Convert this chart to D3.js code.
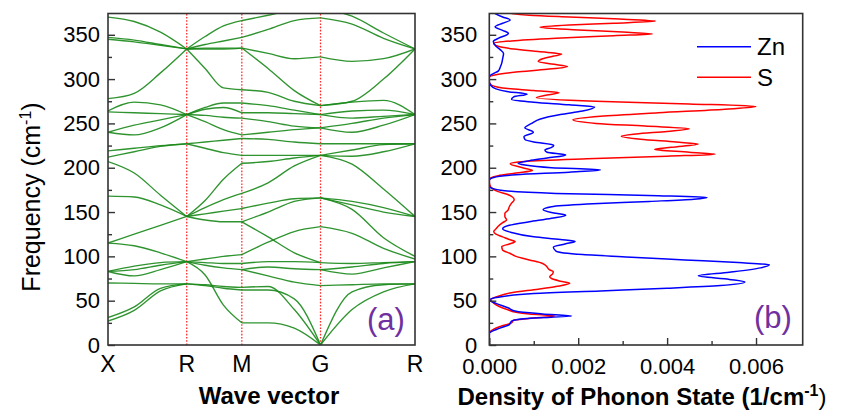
<!DOCTYPE html>
<html>
<head>
<meta charset="utf-8">
<script src="https://cdn.jsdelivr.net/npm/d3@7"></script>
<style>
  body { margin: 0; background: #fff; }
  text { font-family: Arial, "Liberation Sans", sans-serif; fill: #000; }
</style>
</head>
<body>
<script>

  //k path: high symmetry points and their path positions
  var kLabels = ["X", "R", "M", "G", "R"];
  var kPos = [0, 1, 1.7, 2.7, 3.9];

  //Band frequencies (cm-1) at 0, 1/3, 2/3 and end of each segment
  var bandsXR = [
    [370, 365, 353, 334], [347, 344, 339, 334], [345, 342, 338, 334], [278, 284, 307, 334],
    [264, 274, 271, 260], [263, 262, 261, 260], [240, 248, 254, 260], [240, 237, 245, 260],
    [219, 222, 225, 227], [212, 218, 224, 227], [207, 194, 169, 145], [168, 167, 158, 145],
    [115, 125, 135, 145], [115, 112, 104, 94], [83, 89, 93, 94], [83, 85, 90, 94],
    [83, 78, 85, 94], [70, 69.5, 69, 69], [31, 43, 64, 69], [27, 39, 61, 69]
  ];
  var bandsRM = [
    [334, 348, 360, 366], [334, 339, 343, 347], [334, 335, 335, 335], [334, 334, 334, 335],
    [334, 312, 290, 288], [260, 268, 273, 273], [260, 266, 268, 262], [260, 259, 257, 256],
    [260, 252, 243, 237], [227, 229, 231, 233], [227, 222, 217, 214], [145, 163, 187, 205],
    [145, 155, 164, 171], [145, 148, 151, 154], [145, 141, 139, 139], [94, 97, 100, 102],
    [94, 93, 92, 92], [94, 90, 87, 85], [94, 79, 45, 25], [69, 68, 66, 65], [69, 67, 64, 62]
  ];
  var bandsMG = [
    [366, 372, 378, 380], [347, 356, 366, 369], [335, 329, 323, 325], [335, 312, 287, 270],
    [288, 285, 275, 270], [273, 270, 265, 260], [262, 262, 261, 260], [256, 252, 247, 245],
    [237, 240, 243, 245], [233, 232, 229, 227], [214, 214, 214, 214], [205, 207, 211, 214],
    [171, 183, 202, 214], [154, 160, 165, 166], [139, 150, 162, 166], [139, 122, 104, 93],
    [102, 116, 128, 133.5], [92, 94, 94, 93], [85, 88, 86, 85], [85, 78, 71, 67],
    [65, 66, 40, 0], [62, 62, 52, 0], [25, 25, 19, 0]
  ];
  var bandsGR = [
    [380, 371, 352, 334], [369, 362, 346, 334], [325, 320, 323, 334], [270, 275, 300, 334],
    [270, 274, 276, 260], [260, 264, 265, 260], [260, 256, 258, 260], [245, 250, 256, 260],
    [245, 240, 248, 260], [227, 227, 227, 227], [214, 220, 226, 227], [214, 213, 218, 227],
    [214, 204, 176, 145], [166, 162, 155, 145], [166, 158, 150, 145], [166, 153, 121, 100],
    [133.5, 126, 109, 97], [93, 92, 93, 94], [85, 88, 92, 94], [85, 80, 87, 94],
    [67, 68, 69, 69], [0, 60, 68, 69], [0, 40, 60, 69]
  ];

  //Phonon DOS, Zn
  var znFreq = [0, 13, 19, 23, 27, 30, 32.6, 35, 38, 42, 47, 51, 54, 58, 61, 64, 67, 71, 74, 78, 82, 87, 90.5, 93, 96, 99, 102, 106, 110.5, 114, 116.8, 119, 122, 127, 131, 135, 139, 143, 146.5, 149, 152.5, 156, 159, 162, 164.5, 166.5, 168.5, 171, 174, 177, 179, 186, 189, 192, 195, 197.5, 200, 203, 205, 208, 211, 214.5, 217.5, 220, 223, 225.5, 229, 232, 235, 240, 245, 250, 255, 260, 264, 268.5, 271, 274, 277, 280, 283, 286, 289, 293, 297, 303, 306, 309, 314, 318, 323, 329, 333, 337, 342.4, 346, 351.5, 355, 359, 363, 366.8, 370, 374];
  var znDos = [0, 0, 0.00024, 0.00045, 0.0005, 0.00085, 0.00185, 0.0012, 0.0006, 0.00042, 0.00015, 0, 0.0002, 0.001, 0.0025, 0.004, 0.0052, 0.00575, 0.0054, 0.0047, 0.0054, 0.0061, 0.0063, 0.0056, 0.0044, 0.0032, 0.0021, 0.0015, 0.00144, 0.0017, 0.00193, 0.0016, 0.001, 0.0005, 0.0003, 0.00045, 0.0009, 0.0014, 0.00172, 0.00145, 0.00121, 0.0014, 0.0022, 0.0036, 0.0046, 0.0049, 0.0038, 0.0015, 0.00035, 0.00005, 0, 0, 0.0001, 0.0006, 0.0018, 0.0025, 0.0014, 0.0008, 0.00065, 0.0009, 0.0013, 0.00172, 0.0013, 0.00125, 0.0014, 0.00145, 0.001, 0.0008, 0.00078, 0.00099, 0.0008, 0.00095, 0.00115, 0.0016, 0.0021, 0.00237, 0.0018, 0.001, 0.0005, 0.00055, 0.00085, 0.0004, 0.00015, 0.00003, 0, 0, 0.00008, 0.0002, 0.00025, 0.00028, 0.0003, 0.00032, 0.00025, 0.00015, 0.00009, 0.0002, 0.00043, 0.0003, 0.00013, 0.0003, 0.00047, 0.0003, 0.00013];

  //Phonon DOS, S
  var sFreq = [0, 13, 18, 21, 25, 28, 30, 32.6, 35, 37, 40, 44, 48, 51, 55, 59, 63, 66, 69.6, 72, 75, 77, 80, 82.7, 85, 88, 92, 96, 100, 103.5, 107, 111, 114, 116.6, 119, 122, 125, 128, 131, 134, 138, 141, 145, 148.5, 152, 156, 160, 164, 167, 170, 173, 177, 181, 185, 188, 191, 194, 197, 200, 204.5, 207, 210, 213, 215.3, 217.5, 220.7, 223, 226.7, 229, 232, 235.4, 238, 241, 244, 247, 250, 254, 258, 262, 266, 269, 272, 275, 279, 282, 284.5, 287, 290, 294, 297, 302, 305, 308, 311, 314.2, 317, 319.8, 323, 326, 328.2, 331, 334, 337, 340.5, 343, 346, 349, 351, 353, 355.5, 358.5, 361, 363, 365.5, 368, 370, 372, 374];
  var sDos = [0, 0, 0.0001, 0.00025, 0.0005, 0.00055, 0.0009, 0.00148, 0.0009, 0.0006, 0.0004, 0.0002, 0.00008, 0.00003, 0.0002, 0.0005, 0.0011, 0.0015, 0.00181, 0.0016, 0.0014, 0.00136, 0.00142, 0.00144, 0.00135, 0.0013, 0.0012, 0.0009, 0.0006, 0.00046, 0.0003, 0.00028, 0.00045, 0.00058, 0.00045, 0.0003, 0.00015, 0.0001, 0.00015, 0.0002, 0.0003, 0.00039, 0.00035, 0.00035, 0.00042, 0.00045, 0.0005, 0.00056, 0.00052, 0.0004, 0.0002, 0.00006, 0.00001, 0, 0.00002, 0.0002, 0.0006, 0.00097, 0.00075, 0.00047, 0.0008, 0.0022, 0.004, 0.00508, 0.0045, 0.00372, 0.0041, 0.0047, 0.0042, 0.0034, 0.00297, 0.0033, 0.004, 0.0045, 0.0035, 0.0024, 0.00188, 0.0025, 0.0038, 0.0053, 0.006, 0.0045, 0.0024, 0.00106, 0.0013, 0.00157, 0.001, 0.0003, 0.00003, 0, 0, 0.00015, 0.0006, 0.0013, 0.00176, 0.0014, 0.0011, 0.0012, 0.00145, 0.00163, 0.0011, 0.00055, 0.0002, 0.0001, 0.0005, 0.0015, 0.0028, 0.00367, 0.003, 0.002, 0.00114, 0.0018, 0.0028, 0.00374, 0.0028, 0.0018, 0.0009, 0.0005];

  var freqTicks = [0, 50, 100, 150, 200, 250, 300, 350];
  var freqMinor = [25, 75, 125, 175, 225, 275, 325];
  var dosTicks = [0, 0.002, 0.004, 0.006];
  var dosMinor = [0.001, 0.003, 0.005];


  var width = 843, height = 416;

  var svg = d3.select("body")
    .append("svg")
    .attr("width", width)
    .attr("height", height);

  //Scales, both panels share the frequency axis
  var y = d3.scaleLinear().domain([0, 374]).range([345, 13.5]);
  var xk = d3.scaleLinear().domain([0, 3.9]).range([108, 415]);
  var xd = d3.scaleLinear().domain([0, 0.00705]).range([489.3, 802.7]);

  var defs = svg.append("defs");
  defs.append("clipPath").attr("id", "clipA")
    .append("rect").attr("x", 108).attr("y", 13.5).attr("width", 307).attr("height", 331.5);
  defs.append("clipPath").attr("id", "clipB")
    .append("rect").attr("x", 489.3).attr("y", 13.5).attr("width", 313.4).attr("height", 331.5);

  // ---- panel (a): band structure ----
  var plotA = svg.append("g").attr("clip-path", "url(#clipA)");

  //red dotted lines at inner high symmetry points
  plotA.selectAll(".kline")
    .data(kPos.slice(1, 4))
    .enter().append("line")
    .attr("class", "kline")
    .attr("x1", function(d) { return xk(d); })
    .attr("x2", function(d) { return xk(d); })
    .attr("y1", y(0))
    .attr("y2", y(374))
    .attr("stroke", "#ff2a2a")
    .attr("stroke-width", 1.3)
    .attr("stroke-dasharray", "1.6,1.6");

  var bandLine = d3.line()
    .x(function(d) { return xk(d[0]); })
    .y(function(d) { return y(d[1]); })
    .curve(d3.curveMonotoneX);

  var segs = [bandsXR, bandsRM, bandsMG, bandsGR];
  segs.forEach(function(bands, s) {
    var k0 = kPos[s], k1 = kPos[s + 1];
    bands.forEach(function(b) {
      var pts = b.map(function(v, i) { return [k0 + (k1 - k0) * i / 3, v]; });
      plotA.append("path")
        .attr("d", bandLine(pts))
        .attr("fill", "none")
        .attr("stroke", "#188818")
        .attr("stroke-width", 1.35)
        .attr("stroke-opacity", 0.9);
    });
  });

  //frame
  svg.append("rect")
    .attr("x", 108).attr("y", 13.5).attr("width", 307).attr("height", 331.5)
    .attr("fill", "none").attr("stroke", "#333").attr("stroke-width", 1.6);

  svg.append("g").attr("transform", "translate(108,0)")
    .call(d3.axisLeft(y).tickValues(freqTicks).tickSizeInner(-7).tickSizeOuter(0).tickPadding(8));
  svg.append("g").attr("transform", "translate(108,0)")
    .call(d3.axisLeft(y).tickValues(freqMinor).tickSize(-4).tickFormat(""));

  //k labels
  svg.selectAll(".klabel")
    .data(kLabels)
    .enter().append("text")
    .attr("class", "klabel")
    .attr("x", function(d, i) { return xk(kPos[i]); })
    .attr("y", 372)
    .attr("text-anchor", "middle")
    .style("font-size", "23px")
    .text(function(d) { return d; });

  svg.append("text")
    .attr("x", 269).attr("y", 404)
    .attr("text-anchor", "middle")
    .style("font-size", "24px").style("font-weight", "bold")
    .text("Wave vector");

  var yt = svg.append("text")
    .attr("transform", "translate(40,197) rotate(-90)")
    .attr("text-anchor", "middle")
    .style("font-size", "25px");
  yt.append("tspan").text("Frequency (cm");
  yt.append("tspan").attr("dy", -9).style("font-size", "16px").text("-1");
  yt.append("tspan").attr("dy", 9).text(")");

  svg.append("text")
    .attr("x", 386).attr("y", 330)
    .attr("text-anchor", "middle")
    .style("font-size", "31px")
    .style("fill", "#7030a0")
    .text("(a)");

  // ---- panel (b): phonon DOS ----
  var plotB = svg.append("g").attr("clip-path", "url(#clipB)");

  var dosLine = d3.line()
    .x(function(d) { return xd(d[1]); })
    .y(function(d) { return y(d[0]); })
    .curve(d3.curveMonotoneY);

  var series = [
    { name: "Zn", color: "#0000ff", pts: d3.zip(znFreq, znDos) },
    { name: "S", color: "#ff0000", pts: d3.zip(sFreq, sDos) }
  ];

  //draw S first so Zn sits on top at the low peaks
  [series[1], series[0]].forEach(function(s) {
    plotB.append("path")
      .attr("d", dosLine(s.pts))
      .attr("fill", "none")
      .attr("stroke", s.color)
      .attr("stroke-width", 1.5);
  });

  svg.append("rect")
    .attr("x", 489.3).attr("y", 13.5).attr("width", 313.4).attr("height", 331.5)
    .attr("fill", "none").attr("stroke", "#333").attr("stroke-width", 1.6);

  svg.append("g").attr("transform", "translate(489.3,0)")
    .call(d3.axisLeft(y).tickValues(freqTicks).tickSizeInner(-7).tickSizeOuter(0).tickPadding(12));
  svg.append("g").attr("transform", "translate(489.3,0)")
    .call(d3.axisLeft(y).tickValues(freqMinor).tickSize(-4).tickFormat(""));

  svg.append("g").attr("transform", "translate(0,345)")
    .call(d3.axisBottom(xd).tickValues(dosTicks).tickSizeInner(-7).tickSizeOuter(0).tickPadding(13)
      .tickFormat(d3.format(".3f")));
  svg.append("g").attr("transform", "translate(0,345)")
    .call(d3.axisBottom(xd).tickValues(dosMinor).tickSize(-4).tickFormat(""));

  //axis styling
  svg.selectAll(".domain").remove();
  svg.selectAll(".tick line").attr("stroke", "#333").attr("stroke-width", 1.4);
  svg.selectAll(".tick text").style("font-size", "22px").style("font-family", "Arial, 'Liberation Sans', sans-serif").attr("fill", "#000");

  var xt = svg.append("text")
    .attr("x", 642).attr("y", 405)
    .attr("text-anchor", "middle")
    .style("font-size", "24px").style("font-weight", "bold");
  xt.append("tspan").text("Density of Phonon State (1/cm");
  xt.append("tspan").attr("dy", -9).style("font-size", "16px").text("-1");
  xt.append("tspan").attr("dy", 9).style("font-weight", "normal").text(")");

  //legend
  var legend = svg.selectAll(".legend")
    .data(series)
    .enter().append("g")
    .attr("class", "legend")
    .attr("transform", function(d, i) { return "translate(697," + (46.7 + i * 30.6) + ")"; });

  legend.append("line")
    .attr("x1", 0).attr("x2", 54)
    .attr("stroke", function(d) { return d.color; })
    .attr("stroke-width", 1.5);

  legend.append("text")
    .attr("x", 60).attr("y", 8.5)
    .style("font-size", "24px")
    .text(function(d) { return d.name; });

  svg.append("text")
    .attr("x", 773).attr("y", 328)
    .attr("text-anchor", "middle")
    .style("font-size", "31px")
    .style("fill", "#7030a0")
    .text("(b)");

</script>
</body>
</html>
